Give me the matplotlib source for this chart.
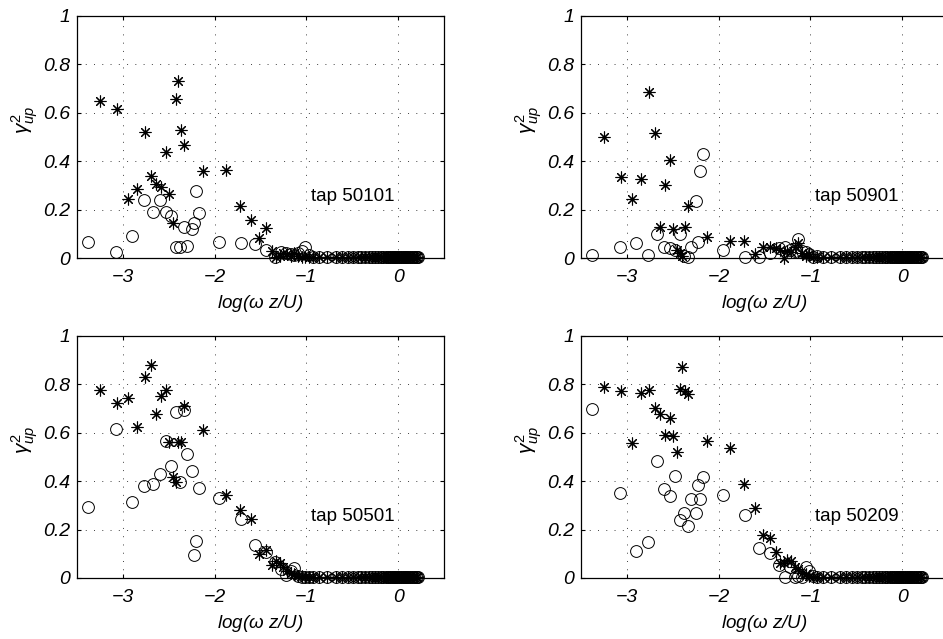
import numpy as np
import matplotlib
matplotlib.use('Agg')
import matplotlib.pyplot as plt

plt.rcParams['font.family'] = ['Liberation Sans', 'DejaVu Sans']
plt.rcParams['mathtext.fontset'] = 'custom'
plt.rcParams['mathtext.rm'] = 'Liberation Sans'
plt.rcParams['mathtext.it'] = 'Liberation Sans:italic'

# frequency bins (log scale), shared by all taps
CIRCLE_HEAD_X = [-3.378, -3.073, -2.902, -2.771, -2.676, -2.596, -2.535, -2.473,
                 -2.418, -2.382, -2.338, -2.298, -2.251, -2.225, -2.2, -2.167,
                 -1.956, -1.713, -1.556, -1.436, -1.345, -1.28]
CIRCLE_TAIL_X = [-1.22, -1.17, -1.13, -1.09, -1.05, -1.01, -0.97, -0.93, -0.86, -0.78,
                 -0.68, -0.61, -0.55, -0.49, -0.44, -0.40, -0.36, -0.32, -0.28, -0.25,
                 -0.22, -0.19, -0.16, -0.13, -0.11, -0.09, -0.07, -0.05, -0.03, -0.01,
                 0.01, 0.03, 0.05, 0.07, 0.09, 0.11, 0.13, 0.15, 0.17, 0.19, 0.21, 0.22]
STAR_HEAD_X = [-3.244, -3.062, -2.94, -2.844, -2.764, -2.698, -2.636, -2.589, -2.535,
               -2.498, -2.455, -2.425, -2.396, -2.367, -2.331, -2.124, -1.88, -1.72,
               -1.607, -1.516, -1.436]
STAR_TAIL_X = [-1.38, -1.33, -1.29, -1.25, -1.21, -1.17, -1.13, -1.09, -1.05, -1.01,
               -0.97, -0.93, -0.86, -0.78, -0.68, -0.61, -0.55, -0.49, -0.44, -0.40,
               -0.36, -0.32, -0.28, -0.25, -0.22, -0.19, -0.16, -0.13, -0.11, -0.09,
               -0.07, -0.05, -0.03, -0.01, 0.01, 0.03, 0.05, 0.07, 0.09, 0.11, 0.13,
               0.15, 0.17, 0.19, 0.21]

# near-zero floor shared by the high frequency end
FLOOR_C = [0.005, 0.004, 0.006, 0.004, 0.005, 0.003, 0.004, 0.005, 0.003, 0.004,
           0.003, 0.004, 0.003, 0.003, 0.004, 0.003, 0.003, 0.004, 0.003, 0.003,
           0.003, 0.004, 0.003, 0.003, 0.003, 0.003, 0.003, 0.003, 0.003, 0.003,
           0.003, 0.003]
FLOOR_S = [0.004, 0.005, 0.003, 0.004, 0.003, 0.004, 0.003, 0.003, 0.004, 0.003,
           0.003, 0.004, 0.003, 0.003, 0.003, 0.003, 0.004, 0.003, 0.003, 0.003,
           0.003, 0.003, 0.003, 0.003, 0.003, 0.003, 0.003, 0.003, 0.003, 0.003,
           0.003, 0.003, 0.003]

TAPS = ['tap 50101', 'tap 50901', 'tap 50501', 'tap 50209']

CIRCLE_Y = {
    'tap 50101': [0.065, 0.023, 0.092, 0.24, 0.19, 0.24, 0.19, 0.172, 0.044, 0.044,
                  0.129, 0.051, 0.118, 0.143, 0.278, 0.188, 0.065, 0.062, 0.056, 0.033,
                  0.005, 0.026,
                  0.02, 0.017, 0.012, 0.02, 0.03, 0.045, 0.012, 0.006, 0.005, 0.004],
    'tap 50901': [0.012, 0.047, 0.06, 0.014, 0.098, 0.044, 0.04, 0.035, 0.1, 0.01,
                  0.005, 0.047, 0.235, 0.065, 0.36, 0.43, 0.033, 0.005, 0.005, 0.02,
                  0.04, 0.045,
                  0.035, 0.03, 0.077, 0.03, 0.025, 0.015, 0.005, 0.01, 0.005, 0.004],
    'tap 50501': [0.293, 0.617, 0.314, 0.38, 0.388, 0.431, 0.565, 0.464, 0.686, 0.397,
                  0.694, 0.511, 0.441, 0.096, 0.151, 0.37, 0.332, 0.242, 0.138, 0.107,
                  0.066, 0.039,
                  0.011, 0.03, 0.04, 0.01, 0.005, 0.003, 0.004, 0.005, 0.004, 0.004],
    'tap 50209': [0.697, 0.353, 0.11, 0.147, 0.482, 0.369, 0.337, 0.421, 0.238, 0.269,
                  0.215, 0.328, 0.269, 0.386, 0.328, 0.417, 0.344, 0.262, 0.124, 0.105,
                  0.055, 0.004,
                  0.045, 0.005, 0.01, 0.004, 0.045, 0.03, 0.01, 0.005, 0.004, 0.004],
}
STAR_Y = {
    'tap 50101': [0.65, 0.615, 0.243, 0.287, 0.519, 0.34, 0.304, 0.293, 0.436, 0.264,
                  0.143, 0.657, 0.733, 0.528, 0.465, 0.36, 0.364, 0.216, 0.157, 0.084,
                  0.122,
                  0.03, 0.005, 0.01, 0.02, 0.015, 0.01, 0.02, 0.01, 0.005, 0.005,
                  0.004, 0.004],
    'tap 50901': [0.50, 0.335, 0.245, 0.325, 0.685, 0.515, 0.13, 0.30, 0.405, 0.12,
                  0.033, 0.02, 0.01, 0.13, 0.215, 0.085, 0.07, 0.072, 0.015, 0.047,
                  0.045,
                  0.04, 0.035, 0.0, 0.03, 0.025, 0.045, 0.06, 0.02, 0.01, 0.015,
                  0.005, 0.004],
    'tap 50501': [0.775, 0.724, 0.745, 0.624, 0.83, 0.881, 0.679, 0.752, 0.775, 0.563,
                  0.417, 0.397, 0.563, 0.563, 0.711, 0.613, 0.342, 0.282, 0.245, 0.10,
                  0.114,
                  0.052, 0.07, 0.06, 0.045, 0.03, 0.02, 0.015, 0.01, 0.01, 0.005,
                  0.004, 0.004],
    'tap 50209': [0.79, 0.773, 0.559, 0.764, 0.778, 0.704, 0.679, 0.59, 0.663, 0.585,
                  0.521, 0.78, 0.872, 0.771, 0.762, 0.566, 0.537, 0.39, 0.289, 0.176,
                  0.167,
                  0.107, 0.06, 0.063, 0.076, 0.07, 0.045, 0.039, 0.02, 0.015, 0.01,
                  0.005, 0.004],
}

X_TICKS = [-3, -2, -1, 0]
Y_TICKS = [0, 0.2, 0.4, 0.6, 0.8, 1]
Y_TICK_LABELS = ['0', '0.2', '0.4', '0.6', '0.8', '1']

W, H = 943, 639
# axes boxes in pixels: left, top, right, bottom
BOXES = [(77, 16, 444, 258), (581, 16, 948, 258),
         (77, 336, 444, 578), (581, 336, 948, 578)]

fig = plt.figure(figsize=(W / 100, H / 100), dpi=100)

for tap, (l, t, r, b) in zip(TAPS, BOXES):
    ax = fig.add_axes([l / W, 1 - b / H, (r - l) / W, (b - t) / H])
    cx = CIRCLE_HEAD_X + CIRCLE_TAIL_X
    cy = CIRCLE_Y[tap] + FLOOR_C[:len(cx) - len(CIRCLE_Y[tap])]
    sx = STAR_HEAD_X + STAR_TAIL_X
    sy = STAR_Y[tap] + FLOOR_S[:len(sx) - len(STAR_Y[tap])]

    ax.plot(cx, cy, 'o', ms=8.5, mfc='none', mec='k', mew=0.7, clip_on=False)
    ax.plot(sx, sy, ls='none', marker=(8, 2, 0), ms=8.5, mec='k', mew=0.8,
            clip_on=False)
    ax.plot(sx, sy, '.', ms=2.5, color='k', clip_on=False)

    ax.set_xlim(-3.5, 0.5)
    ax.set_ylim(0, 1)
    ax.set_xticks(X_TICKS)
    ax.set_yticks(Y_TICKS)
    ax.set_yticklabels(Y_TICK_LABELS)
    ax.grid(True, linestyle=(0, (1, 7.5)), color='0.25', linewidth=0.7)
    ax.tick_params(direction='in', length=3, width=0.8, top=True, right=True,
                   labelsize=14, pad=5)
    ax.tick_params(axis='x', pad=8)
    for lab in ax.get_xticklabels() + ax.get_yticklabels():
        lab.set_fontstyle('italic')
    for sp in ax.spines.values():
        sp.set_linewidth(0.9)

    ax.set_xlabel(r'log($\omega$ z/U)', fontsize=13.5, fontstyle='italic', labelpad=5)
    ax.set_ylabel(r'$\gamma^2_{up}$', fontsize=15, va='center')
    ax.yaxis.set_label_coords(-0.142, 0.57)

    ax.text(-0.95, 0.255, tap, fontsize=13.5, ha='left', va='center')

fig.savefig('out.png', dpi=100)
